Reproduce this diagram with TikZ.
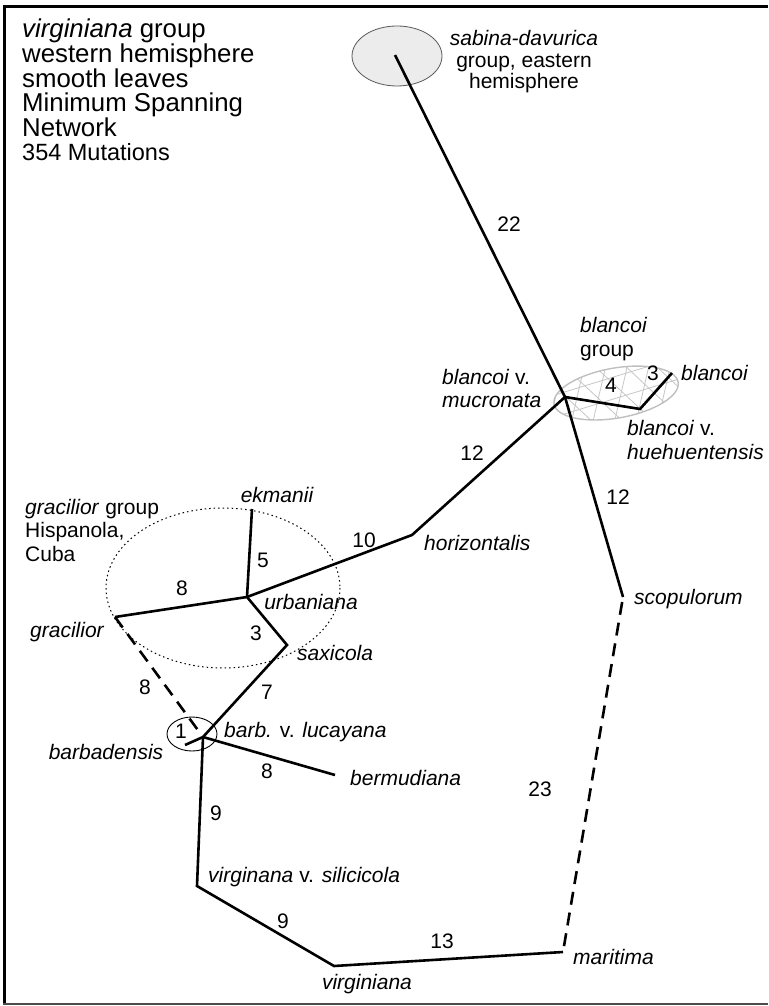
\documentclass[tikz,border=0pt]{standalone}
\usepackage{fontspec}
\setmainfont{Liberation Sans}
\usetikzlibrary{calc}

\tikzset{
  taxon/.style={font=\fontsize{21}{23.5}\selectfont\itshape, inner sep=0pt},
  plain/.style={font=\fontsize{21}{23.5}\selectfont, inner sep=0pt},
  count/.style={font=\fontsize{21}{23.5}\selectfont, inner sep=0pt},
  branch/.style={line width=2.6pt},
  gapbranch/.style={branch, dash pattern=on 13pt off 8pt},
  mesh/.style={gray!45, line width=0.8pt},
}

\begin{document}
\begin{tikzpicture}[x=1pt,y=-1pt]
\useasboundingbox (0,0) rectangle (768,1006);

% frame
\draw[line width=3pt] (4.5,1003) -- (4.5,6.5) -- (768,6.5);
\draw[gray!60!black, line width=1.8pt] (3,1004) -- (768,1004);

\coordinate (sab) at (395,55);
\coordinate (bj) at (565,397);
\coordinate (bh) at (640,409);
\coordinate (bl) at (672,373);
\coordinate (hor) at (412,535);
\coordinate (scp) at (623,597);
\coordinate (urb) at (247,597);
\coordinate (ekm) at (252,509);
\coordinate (grc) at (115,617);
\coordinate (sax) at (287,645);
\coordinate (brb) at (203,737);
\coordinate (bds) at (185,745);
\coordinate (ber) at (335,775);
\coordinate (sil) at (197,886);
\coordinate (vir) at (334,966);
\coordinate (mar) at (563,952);

% groups
\coordinate (sabc) at (397,56);
\coordinate (bm) at (616,393);
\coordinate (grcc) at (223,588);
\coordinate (brbc) at (192,734);

\draw[gray!70!black, fill=gray!15, line width=0.8pt] (sabc) ellipse [x radius=45, y radius=30];

\begin{scope}
\clip[rotate around={10:(bm)}] (bm) ellipse [x radius=63, y radius=25];
\foreach \a in {0,60,120}
  \foreach \k in {-4,...,4}
    \draw[mesh, shift={(bm)}, rotate=\a+17] (-80,\k*21+5) -- (80,\k*21+5);
\end{scope}
\draw[gray!50, line width=1.4pt, rotate around={10:(bm)}] (bm) ellipse [x radius=63, y radius=25];

\draw[line width=1pt, dash pattern=on 1.5pt off 3pt] (grcc) ellipse [x radius=117, y radius=80];
\draw[line width=0.9pt] (brbc) ellipse [x radius=25, y radius=17];

% branches
\draw[branch] (sab) -- (bj);
\draw[branch] (bj) -- (bh) -- (bl);
\draw[branch] (bj) -- (hor) -- (urb);
\draw[branch] (bj) -- (scp);
\draw[branch] (urb) -- (ekm);
\draw[branch] (urb) -- (grc);
\draw[branch] (urb) -- (sax) -- (brb);
\draw[gapbranch, shorten >=5pt] (grc) -- (brb);
\draw[branch] (brb) -- (bds);
\draw[branch] (brb) -- (ber);
\draw[branch] (brb) -- (sil) -- (vir) -- (mar);
\draw[gapbranch, shorten <=6pt] (mar) -- (scp);

% texts
\node[anchor=north west, align=left, inner sep=0pt, font=\fontsize{25.8}{24.6}\selectfont] (title) at (22,19)
  {\lineskiplimit=-20pt\relax\textit{virginiana} group\\western hemisphere\\smooth leaves\\Minimum Spanning\\Network\\{\fontsize{23.5}{23.5}\selectfont 354 Mutations}};

\node[plain, align=center, font=\fontsize{21}{21.5}\selectfont] (lsab) at (524,62) {\textit{sabina-davurica}\\group, eastern\\hemisphere};
\node[plain, align=left, anchor=west, font=\fontsize{21}{24}\selectfont] (lbgrp) at (580,339) {\textit{blancoi}\\group};
\node[taxon, anchor=west] (lbl) at (681,373) {blancoi};
\node[taxon, align=left, anchor=west, font=\fontsize{21}{24}\selectfont\itshape] (lbh) at (627,440) {blancoi \textup{v.}\\huehuentensis};
\node[taxon, align=left, anchor=west, font=\fontsize{21}{23}\selectfont\itshape] (lbj) at (442,388) {blancoi \textup{v.}\\mucronata};
\node[taxon, anchor=west] (lhor) at (424,543) {horizontalis};
\node[taxon, anchor=west] (lscp) at (634,599) {scopulorum};
\node[taxon] (lekm) at (277,495) {ekmanii};
\node[taxon] (lurb) at (311,602) {urbaniana};
\node[taxon, anchor=west] (lsax) at (297,653) {saxicola};
\node[taxon] (lgrc) at (67,632) {gracilior};
\node[plain, align=left, anchor=west] (lgrp) at (25,530) {\textit{gracilior} group\\Hispanola,\\Cuba};
\node[taxon, anchor=west] (lbrb) at (224,732) {barb. \textup{v.} lucayana};
\node[taxon] (lbds) at (106,752) {barbadensis};
\node[taxon, anchor=west] (lber) at (350,778) {bermudiana};
\node[taxon, anchor=west] (lsil) at (208,877) {virginana \textup{v.} silicicola};
\node[taxon] (lvir) at (367,984) {virginiana};
\node[taxon, anchor=west] (lmar) at (573,957) {maritima};

\node[count] (n22) at (509,224) {22};
\node[count] (n12a) at (472,453) {12};
\node[count] (n12b) at (618,497) {12};
\node[count] (n4) at (611,385) {4};
\node[count] (n3a) at (653,373) {3};
\node[count] (n10) at (364,540) {10};
\node[count] (n5) at (263,560) {5};
\node[count] (n8a) at (182,588) {8};
\node[count] (n3b) at (256,633) {3};
\node[count] (n7) at (267,692) {7};
\node[count] (n8b) at (145,687) {8};
\node[count] (n1) at (181,731) {1};
\node[count] (n8c) at (267,771) {8};
\node[count] (n9a) at (216,813) {9};
\node[count] (n9b) at (283,921) {9};
\node[count] (n13) at (442,941) {13};
\node[count] (n23) at (540,789) {23};
\end{tikzpicture}
\end{document}
